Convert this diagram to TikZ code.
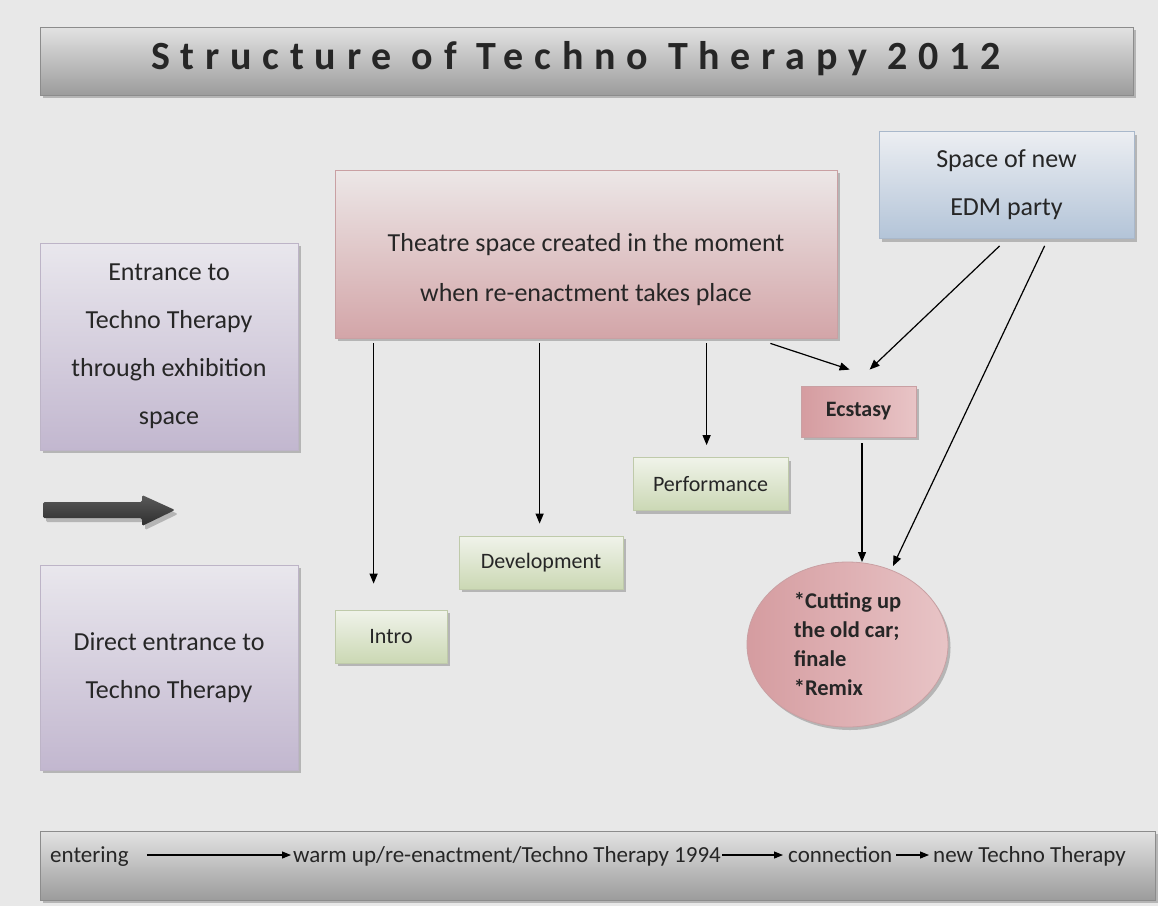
\documentclass[tikz,border=0pt]{standalone}
\usepackage{fontspec}
\setmainfont{Carlito}
\newfontfamily\titlefont[LetterSpace=27]{Carlito}
\usetikzlibrary{arrows.meta,shapes.geometric,shadows}

\definecolor{paper}{HTML}{E8E8E8}
\definecolor{ink}{HTML}{262626}
\definecolor{barTop}{HTML}{E2E2E2}
\definecolor{barBot}{HTML}{9C9C9C}
\definecolor{barLine}{HTML}{8C8C8C}
\definecolor{lilacTop}{HTML}{E9E7ED}
\definecolor{lilacBot}{HTML}{C2B7CF}
\definecolor{lilacLine}{HTML}{BDB4C7}
\definecolor{roseTop}{HTML}{ECE7E7}
\definecolor{roseBot}{HTML}{D3A5A8}
\definecolor{roseLine}{HTML}{C9A0A3}
\definecolor{skyTop}{HTML}{ECEEF2}
\definecolor{skyBot}{HTML}{B3C4D8}
\definecolor{skyLine}{HTML}{A9B8CB}
\definecolor{leafTop}{HTML}{F0F3EA}
\definecolor{leafBot}{HTML}{CBD8B4}
\definecolor{leafLine}{HTML}{BFCAAA}
\definecolor{hotLeft}{HTML}{D59CA0}
\definecolor{hotRight}{HTML}{E8C4C6}
\definecolor{arrowTop}{HTML}{5A5A5A}
\definecolor{arrowMid}{HTML}{151515}
\definecolor{arrowBot}{HTML}{2E2E2E}

\tikzset{
  x=1pt, y=-1pt,
  panel/.style={rectangle, inner sep=0pt, align=center, text=ink,
    line width=0.8pt,
    drop shadow={shadow xshift=2.5pt, shadow yshift=-3pt, fill=black, opacity=0.22}},
  greybar/.style={panel, draw=barLine, top color=barTop, bottom color=barBot},
  lilac/.style={panel, draw=lilacLine, top color=lilacTop, bottom color=lilacBot,
    minimum width=258pt, font=\fontsize{26}{48}\selectfont},
  rose/.style={panel, draw=roseLine, top color=roseTop, bottom color=roseBot},
  sky/.style={panel, draw=skyLine, top color=skyTop, bottom color=skyBot},
  leaf/.style={panel, draw=leafLine, top color=leafTop, bottom color=leafBot,
    minimum height=53pt, font=\fontsize{22}{26}\selectfont},
  hot/.style={panel, draw=roseLine, left color=hotLeft, right color=hotRight},
  boxtext/.style={align=center, text=ink, inner sep=0pt},
  bartext/.style={anchor=base west, text=ink, inner sep=0pt, font=\fontsize{23}{26}\selectfont},
  conn/.style={draw=black, line width=1.2pt, -{Triangle[length=10pt,width=8pt]}},
  barconn/.style={draw=black, line width=1.1pt, -{Triangle[length=9pt,width=7pt]}},
}

\begin{document}
\begin{tikzpicture}
  % page
  \fill[paper] (0,0) rectangle (1158,906);
  \useasboundingbox (0,0) rectangle (1158,906);

  % heading bar
  \node[greybar, minimum width=1093pt, minimum height=68pt] (title) at (586.5,61) {};
  \node[boxtext, font=\titlefont\bfseries\fontsize{40}{42}\selectfont] (titletext) at (576,59)
    {Structure of Techno Therapy 2012};

  % the two ways in
  \node[lilac, minimum height=207pt] (entrance) at (169,346.5)
    {Entrance to\\Techno Therapy\\through exhibition\\space};
  \node[lilac, minimum height=205pt] (direct) at (169,667.5)
    {Direct entrance to\\Techno Therapy};

  % large direction arrow
  \fill[black, opacity=0.22, rounded corners=1.5pt]
    (46,506) -- (145,506) -- (145,499) -- (178,514) -- (145,530) -- (145,522) -- (46,522) -- cycle;
  \shade[top color=arrowTop, middle color=arrowMid, bottom color=arrowBot, rounded corners=1.5pt]
    (43,502) -- (142,502) -- (142,495) -- (175,510) -- (142,526) -- (142,518) -- (43,518) -- cycle;

  % theatre space
  \node[rose, minimum width=502pt, minimum height=168pt] (theatre) at (586,254) {};
  \node[boxtext, font=\fontsize{26}{50}\selectfont] (theatretext) at (586,270)
    {Theatre space created in the moment\\when re-enactment takes place};

  % party space
  \node[sky, minimum width=255pt, minimum height=107pt, font=\fontsize{26}{48}\selectfont]
    (edm) at (1006.5,185) {Space of new\\EDM party};

  % stages
  \node[hot, minimum width=115pt, minimum height=51pt, font=\bfseries\fontsize{22}{26}\selectfont]
    (ecstasy) at (858.5,411.5) {Ecstasy};
  \node[leaf, minimum width=155pt] (perf) at (710.5,484) {Performance};
  \node[leaf, minimum width=164pt] (dev) at (541,562.5) {Development};
  \node[leaf, minimum width=112pt] (intro) at (391,636.5) {Intro};

  % finale
  \node[panel, ellipse, draw=roseLine, left color=hotLeft, right color=hotRight,
    minimum width=201pt, minimum height=165pt, align=left,
    font=\bfseries\fontsize{22.5}{29}\selectfont] (finale) at (847.5,644.5)
    {*Cutting up\\the old car;\\finale\\*Remix};

  % connectors
  \draw[conn] ([xshift=39pt,yshift=-5pt]theatre.south west) -- ([xshift=39pt,yshift=26pt]intro.north west);
  \draw[conn] ([xshift=205pt,yshift=-5pt]theatre.south west) -- ([xshift=81pt,yshift=12pt]dev.north west);
  \draw[conn] ([xshift=372pt,yshift=-5pt]theatre.south west) -- ([xshift=74pt,yshift=12pt]perf.north west);
  \draw[conn] ([xshift=-67pt,yshift=-5pt]theatre.south east) -- ([xshift=49pt,yshift=16pt]ecstasy.north west);
  \draw[conn] ([xshift=121pt,yshift=-7pt]edm.south west) -- ([xshift=69pt,yshift=16pt]ecstasy.north west);
  \draw[conn] ([xshift=166pt,yshift=-7pt]edm.south west) -- ([xshift=45.5pt,yshift=78.5pt]finale.center);
  \draw[conn] ([xshift=3.5pt,yshift=-6pt]ecstasy.south) -- ([xshift=14.5pt,yshift=82.5pt]finale.center);

  % timeline bar
  \node[greybar, minimum width=1115pt, minimum height=69pt] (timeline) at (597.5,865.5) {};
  \node[bartext] (t1) at (50,862) {entering};
  \node[bartext] (t2) at (293,862) {warm up/re-enactment/Techno Therapy 1994};
  \node[bartext] (t3) at (788,862) {connection};
  \node[bartext] (t4) at (933,862) {new Techno Therapy};
  \draw[barconn] ([xshift=18pt,yshift=7pt]t1.base east) -- ([xshift=-2pt,yshift=7pt]t2.base west);
  \draw[barconn] ([xshift=1pt,yshift=7pt]t2.base east) -- ([xshift=-5pt,yshift=7pt]t3.base west);
  \draw[barconn] ([xshift=4pt,yshift=7pt]t3.base east) -- ([xshift=-4pt,yshift=7pt]t4.base west);
\end{tikzpicture}
\end{document}
